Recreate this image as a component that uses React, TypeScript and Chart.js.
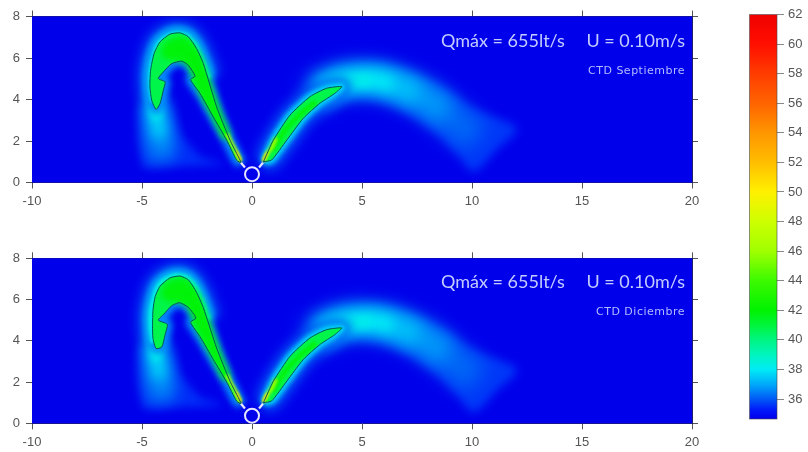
import React, { useEffect, useRef } from "react";
import { Chart, registerables } from "chart.js";

type P = [number, number];

// Contour traced at the ~41 degree isoline (x, y in data units)
const archSeptiembre: P[] = [[-0.47,0.92],[-0.62,1.24],[-1.0,2.04],[-1.61,3.65],[-2.21,5.73],[-2.52,6.46],[-2.89,7.02],[-3.27,7.21],[-3.73,7.15],[-4.18,6.78],[-4.45,6.22],[-4.61,5.41],[-4.64,4.61],[-4.56,3.97],[-4.36,3.52],[-4.18,3.81],[-4.03,4.45],[-3.95,4.85],[-4.26,5.01],[-4.03,5.33],[-3.65,5.73],[-3.2,5.85],[-2.89,5.65],[-2.59,5.12],[-2.79,4.96],[-2.36,4.29],[-1.76,3.16],[-1.15,2.04],[-0.7,1.08],[-0.47,0.92]];
const archDiciembre: P[] = [[-0.47,0.92],[-0.62,1.24],[-1.0,2.04],[-1.61,3.65],[-2.21,5.6],[-2.52,6.35],[-2.89,6.95],[-3.27,7.14],[-3.73,7.05],[-4.18,6.65],[-4.4,6.15],[-4.5,5.5],[-4.52,4.75],[-4.5,4.1],[-4.36,3.63],[-4.1,3.7],[-3.95,4.3],[-3.85,4.8],[-4.26,5.0],[-4.0,5.3],[-3.65,5.7],[-3.3,5.85],[-2.89,5.62],[-2.55,5.1],[-2.79,4.9],[-2.36,4.2],[-1.76,3.1],[-1.15,2.0],[-0.7,1.08],[-0.47,0.92]];
const branchRight: P[] = [[0.52,1.0],[0.97,2.04],[1.73,3.25],[2.64,4.14],[3.39,4.54],[4.08,4.62],[3.77,4.3],[3.09,3.82],[2.33,3.09],[1.58,2.04],[0.89,1.08],[0.52,1.0]];

// Crown of the arch, where the halo is widest
const archCrown: P[] = [[-2.0,5.0],[-2.52,6.4],[-2.89,6.95],[-3.27,7.12],[-3.73,7.05],[-4.18,6.7],[-4.4,6.15],[-4.55,5.4],[-4.55,4.6],[-4.45,3.9]];

// Warm cores inside the contour
const archCore: P[] = [[-2.9,6.65],[-3.3,6.8],[-3.8,6.55],[-3.9,6.2],[-3.4,6.1],[-2.9,5.95],[-2.6,5.4],[-2.2,4.4],[-1.6,3.2],[-1.2,2.3],[-1.6,3.3],[-2.1,4.8],[-2.5,6.0],[-2.9,6.65]];
const archYellow: P[] = [[-1.15,2.35],[-0.95,1.95],[-0.7,1.45],[-0.52,1.05]];
const archOrange: P[] = [[-0.72,1.5],[-0.62,1.25],[-0.5,1.0]];
const branchCore: P[] = [[0.95,1.55],[1.5,2.5],[2.2,3.3],[2.9,3.9]];
const branchYellow: P[] = [[1.1,2.15],[0.9,1.7],[0.7,1.4],[0.55,1.05]];
const branchOrange: P[] = [[0.7,1.45],[0.6,1.25],[0.5,1.0]];

// Descending plume on the left
const fallOuter: P[] = [[-4.94,0.7],[-1.3,0.85],[-1.45,0.95],[-2.36,1.24],[-3.27,2.36],[-3.73,3.97],[-5.17,3.65],[-5.09,1.88]];
const fallMiddle: P[] = [[-4.9,3.9],[-3.8,3.9],[-3.55,2.5],[-3.4,1.3],[-3.8,0.95],[-4.75,0.95],[-5.0,2.2]];
const fallBroad: P[] = [[-4.5,3.9],[-4.3,2.9],[-4.15,2.0],[-4.05,1.4]];
const fallInner: P[] = [[-4.5,4.2],[-4.38,3.4],[-4.25,2.6],[-4.2,2.2]];
const fallPeak: P[] = [[-4.5,4.2],[-4.4,3.5],[-4.33,3.0]];

// Descending plume on the right
const plumeOuter: P[] = [[2.64,4.14],[3.55,5.26],[4.76,5.66],[5.82,5.71],[7.33,5.18],[8.7,4.46],[10.2,3.5],[12.03,2.61],[11.12,1.57],[10.06,0.52],[9.3,1.41],[8.09,2.69],[6.58,3.65],[5.36,4.06],[4.3,4.06],[3.24,3.49]];
const plumeA: P[] = [[2.6,4.1],[4.0,4.85],[5.5,4.95],[6.9,4.55],[8.1,3.9],[9.3,2.9],[10.2,2.15]];
const plumeB: P[] = [[3.0,4.4],[4.0,4.85],[5.5,4.95],[6.9,4.55],[8.1,3.9],[8.8,3.3]];
const plumeC: P[] = [[3.0,4.4],[4.0,4.85],[5.5,4.95],[6.9,4.55],[7.5,4.2]];
const plumeD: P[] = [[3.2,4.5],[4.2,4.85],[5.5,4.95],[6.4,4.72]];
const plumeE: P[] = [[3.8,4.7],[4.6,4.88],[5.4,4.92]];

const stubLeft: P[] = [[-0.32,0.72],[-0.5,0.95]];
const stubRight: P[] = [[0.32,0.72],[0.5,0.95]];
const outfallSeptiembre: P[] = [[0, 0.4]];
const outfallDiciembre: P[] = [[0, 0.37]];

const colorbarTicks = [36, 38, 40, 42, 44, 46, 48, 50, 52, 54, 56, 58, 60, 62];
const colorStops: [number, number, number, number][] = [
  [34.65, 0, 0, 235], [35.2, 0, 20, 250], [36, 0, 90, 245], [37, 0, 170, 250], [38, 0, 235, 245],
  [39, 0, 245, 190], [40, 0, 245, 130], [41, 0, 245, 60], [42, 0, 242, 0], [44, 60, 250, 0],
  [46, 160, 255, 0], [48, 205, 255, 0], [50, 255, 240, 0], [52, 255, 190, 0], [54, 255, 150, 0],
  [56, 255, 100, 0], [58, 255, 60, 0], [60, 255, 15, 0], [62, 240, 0, 0],
];

const BG = 34.65;
const FMAX = 62;

function color(v: number): string {
  for (let i = 1; i < colorStops.length; i++) {
    const a = colorStops[i - 1], b = colorStops[i];
    if (v <= b[0]) {
      const t = Math.max(0, (v - a[0]) / (b[0] - a[0]));
      return `rgb(${Math.round(a[1] + t * (b[1] - a[1]))},${Math.round(a[2] + t * (b[2] - a[2]))},${Math.round(a[3] + t * (b[3] - a[3]))})`;
    }
  }
  return "rgb(240,0,0)";
}

const pts = (a: P[]) => a.map(([x, y]) => ({ x, y }));

function fillLayer(a: P[], level: number, blur: number, tension = 0) {
  return { data: pts(a), showLine: true, pointRadius: 0, borderWidth: 0, fill: "shape", backgroundColor: color(level), borderColor: "transparent", blur, tension };
}
function lineLayer(a: P[], level: number, width: number, blur: number, tension = 0.4) {
  return { data: pts(a), showLine: true, pointRadius: 0, borderWidth: width, fill: false, borderColor: color(level), borderJoinStyle: "round", blur, tension };
}

function layers(arch: P[], outfall: P[]) {
  const l: any[] = [
    fillLayer(fallOuter, 35.5, 4),
    fillLayer(fallMiddle, 36, 7),
    lineLayer(fallBroad, 36.8, 18, 8),
    lineLayer(fallInner, 37.6, 14, 6),
    lineLayer(fallPeak, 38.2, 9, 3.5),
    fillLayer(plumeOuter, 35.6, 5, 0.3),
    lineLayer(plumeA, 36.2, 32, 10),
    lineLayer(plumeB, 36.8, 26, 9),
    lineLayer(plumeC, 37.4, 20, 8),
    lineLayer(plumeD, 38, 14, 6),
    lineLayer(plumeE, 38.2, 9, 4),
    lineLayer(archCrown, 36, 26, 6),
    lineLayer(archCrown, 37.5, 14, 3.5),
    lineLayer(arch, 36.6, 10, 3, 0.2),
    lineLayer(archCrown, 38.3, 7, 1.5),
    lineLayer(branchRight, 36, 18, 6, 0.2),
    lineLayer(branchRight, 37.8, 7, 2.5, 0.2),
    fillLayer(arch, 40.8, 0.7, 0.2),
    lineLayer(archCore, 41.8, 9, 3, 0.2),
    fillLayer(archCore, 41.9, 3, 0.2),
    fillLayer(branchRight, 40.8, 0.7, 0.2),
    lineLayer(branchCore, 41.8, 5, 1.5),
    lineLayer(archYellow, 46, 4, 1.5),
    lineLayer(archOrange, 51, 2.5, 1),
    lineLayer(branchYellow, 46, 4, 1.5),
    lineLayer(branchOrange, 51, 2.5, 1),
    { ...lineLayer(arch, 40, 1, 0.5, 0.2), borderColor: "rgb(0,85,90)" },
    { ...lineLayer(branchRight, 40, 1, 0.5, 0.2), borderColor: "rgb(0,85,90)" },
    { ...lineLayer(stubLeft, 40, 2.2, 0.3, 0), borderColor: "#e6e6ff" },
    { ...lineLayer(stubRight, 40, 2.2, 0.3, 0), borderColor: "#e6e6ff" },
    { data: pts(outfall), pointRadius: 7, pointBorderWidth: 2, pointBorderColor: "#e6e6ff", pointBackgroundColor: "transparent", showLine: false, clip: false, blur: 0.3 },
  ];
  return l.map((d, i) => ({ ...d, order: l.length - i }));
}

const blurPlugin = {
  id: "fieldBlur",
  beforeDatasetDraw(chart: any, args: any) {
    const b = chart.data.datasets[args.index]?.blur;
    chart.ctx.save();
    if (b) chart.ctx.filter = `blur(${b}px)`;
  },
  afterDatasetDraw(chart: any) {
    chart.ctx.restore();
  },
};
Chart.register(blurPlugin);
Chart.register(...registerables);

const tickFont = { family: "'Liberation Sans', Arial, sans-serif", size: 13 };
const tickColor = "#555";
const axisColor = "#20206a";

function panelChart(canvas: HTMLCanvasElement, arch: P[], outfall: P[], top: number, bottom: number, title: string[], subtitle: string, tY: number, sY: number) {
  const h = canvas.height;
  const fit = (size: number) => (s: any) => {
    if (s.position === "left" || s.position === "right") s.width = size;
    else s.height = size;
  };
  const grid = { drawOnChartArea: false, drawTicks: true, tickLength: 6, color: tickColor };
  const xBase = { type: "linear", min: -10, max: 20, grid, border: { color: axisColor, width: 1 } };
  const yBase = { type: "linear", min: 0, max: 8, grid, border: { color: axisColor, width: 1 } };
  return new Chart(canvas, {
    type: "scatter",
    data: { datasets: layers(arch, outfall) as any },
    plugins: [
      {
        id: "field",
        beforeDatasetsDraw(c: any) {
          const { left, top, width, height } = c.chartArea;
          c.ctx.fillStyle = color(BG);
          c.ctx.fillRect(left, top, width, height);
        },
        afterDatasetsDraw(c: any) {
          const ctx = c.ctx;
          ctx.save();
          ctx.fillStyle = "#c4ccff";
          ctx.textBaseline = "middle";
          ctx.textAlign = "left";
          ctx.font = "18px Lato, sans-serif";
          ctx.fillText(title[0], 441, tY);
          ctx.textAlign = "right";
          ctx.fillText(title[1], 685, tY);
          ctx.font = "11px 'DejaVu Sans', sans-serif";
          ctx.letterSpacing = "0.5px";
          ctx.fillStyle = "#b4bcff";
          ctx.fillText(subtitle, 685, sY);
          ctx.restore();
        },
      },
    ],
    options: {
      responsive: false,
      animation: false,
      events: [],
      layout: { padding: 0 },
      plugins: { legend: { display: false }, tooltip: { enabled: false }, title: { display: false } },
      scales: {
        x: { ...xBase, position: "bottom", afterFit: fit(h - bottom), ticks: { stepSize: 5, font: tickFont, color: "#555", padding: 5, maxRotation: 0, autoSkip: false } },
        x2: { ...xBase, position: "top", afterFit: fit(top), ticks: { stepSize: 5, display: false } },
        y: { ...yBase, position: "left", afterFit: fit(32), ticks: { stepSize: 2, font: tickFont, color: "#555", padding: 6 } },
        y2: { ...yBase, position: "right", afterFit: fit(735 - 692), ticks: { stepSize: 2, display: false } },
      } as any,
    },
  } as any);
}

function colorbarChart(canvas: HTMLCanvasElement) {
  return new Chart(canvas, {
    type: "bar",
    data: {
      labels: ["T"],
      datasets: [
        {
          data: [[BG, FMAX]],
          barPercentage: 1,
          categoryPercentage: 1,
          borderWidth: 0,
          backgroundColor: (ctx: any) => {
            const { chart } = ctx;
            const s = chart.scales.y;
            const y0 = s ? s.getPixelForValue(BG) : NaN;
            const y1 = s ? s.getPixelForValue(FMAX) : NaN;
            if (!Number.isFinite(y0) || !Number.isFinite(y1)) return color(40);
            const g = chart.ctx.createLinearGradient(0, y0, 0, y1);
            colorStops.forEach((c) => g.addColorStop((c[0] - BG) / (FMAX - BG), color(c[0])));
            return g;
          },
        },
      ] as any,
    },
    plugins: [
      {
        id: "frame",
        afterDatasetsDraw(c: any) {
          const { left, top, width, height } = c.chartArea;
          c.ctx.save();
          c.ctx.strokeStyle = "rgba(70,70,70,0.6)";
          c.ctx.lineWidth = 1;
          c.ctx.strokeRect(left, top, width, height);
          c.ctx.restore();
        },
      },
    ],
    options: {
      responsive: false,
      animation: false,
      events: [],
      layout: { padding: { top: 14.5, bottom: 33, left: 9.5, right: 0 } },
      plugins: { legend: { display: false }, tooltip: { enabled: false } },
      scales: {
        x: { display: false, offset: true },
        y: {
          position: "right",
          min: BG,
          max: FMAX,
          afterBuildTicks: (s: any) => { s.ticks = colorbarTicks.map((value) => ({ value })); },
          afterFit: (s: any) => { s.width = 31; },
          grid: { drawOnChartArea: false, drawTicks: true, tickLength: 7, color: "#888" },
          border: { display: false },
          ticks: { font: tickFont, color: "#555", padding: 4, autoSkip: false },
        },
      } as any,
    },
  } as any);
}

export default function App() {
  const a = useRef<HTMLCanvasElement>(null);
  const b = useRef<HTMLCanvasElement>(null);
  const c = useRef<HTMLCanvasElement>(null);
  useEffect(() => {
    const charts = [
      panelChart(a.current!, archSeptiembre, outfallSeptiembre, 16.5, 182.5, ["Qmáx = 655lt/s", "U = 0.10m/s"], "CTD Septiembre", 41, 71),
      panelChart(b.current!, archDiciembre, outfallDiciembre, 18.3, 183.3, ["Qmáx = 655lt/s", "U = 0.10m/s"], "CTD Diciembre", 41.7, 72.3),
      colorbarChart(c.current!),
    ];
    return () => charts.forEach((x) => x.destroy());
  }, []);
  const abs = (top: number, left: number): React.CSSProperties => ({ position: "absolute", top, left, display: "block", filter: "blur(0.5px)" });
  return (
    <div style={{ position: "absolute", inset: 0, width: 808, height: 452, background: "#fff", overflow: "hidden" }}>
      <canvas ref={a} width={735} height={212} style={abs(0, 0)} />
      <canvas ref={b} width={735} height={212} style={abs(240, 0)} />
      <canvas ref={c} width={68} height={452} style={abs(0, 740)} />
    </div>
  );
}
